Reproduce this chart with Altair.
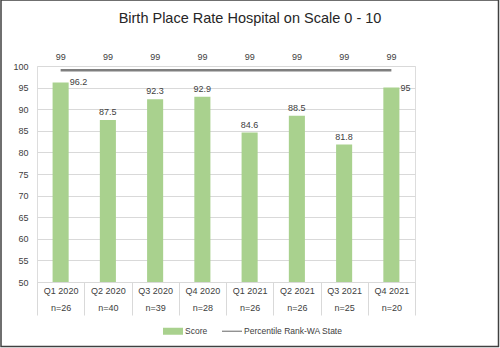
import altair as alt
import pandas as pd

chart_title = "Birth Place Rate Hospital on Scale 0 - 10"
quarters = ["Q1 2020", "Q2 2020", "Q3 2020", "Q4 2020", "Q1 2021", "Q2 2021", "Q3 2021", "Q4 2021"]
n_counts = ["n=26", "n=40", "n=39", "n=28", "n=26", "n=26", "n=25", "n=20"]
scores = [96.2, 87.5, 92.3, 92.9, 84.6, 88.5, 81.8, 95]
percentile = [99, 99, 99, 99, 99, 99, 99, 99]
series_names = ["Score", "Percentile Rank-WA State"]
y_ticks = [50, 55, 60, 65, 70, 75, 80, 85, 90, 95, 100]

labels = [f"{q}|{n}" for q, n in zip(quarters, n_counts)]
df = pd.DataFrame({"label": labels, "score": scores, "pct": percentile})
legend_df = pd.DataFrame({"series": series_names})
frame_df = pd.DataFrame({"title": [chart_title]})

FONT = "Liberation Sans"
W, H = 378, 216

x = alt.X(
    "label:N", sort=labels, title=None,
    scale=alt.Scale(paddingInner=0, paddingOuter=0),
    axis=alt.Axis(
        labelExpr="split(datum.label, '|')", labelAngle=0, tickBand="extent",
        tickSize=33, ticks=True, tickColor="#d9d9d9", domain=True, domainColor="#d9d9d9",
        labelPadding=-29, labelLineHeight=17, labelFontSize=9, labelColor="#404040",
        labelFont=FONT, grid=False, labelBaseline="top",
    ),
)
y_axis = alt.Axis(
    values=y_ticks, grid=True, gridColor="#d9d9d9", domain=False, ticks=False,
    labelPadding=9, labelFontSize=9, labelColor="#404040", labelFont=FONT,
    labelOverlap=False, title=None,
)
y_scale = alt.Scale(domain=[50, 100], nice=False, zero=False)


def yenc(field):
    return alt.Y(f"{field}:Q", scale=y_scale, title=None, axis=y_axis)


bars = alt.Chart(df).mark_bar(
    width=alt.RelativeBandSize(0.34), color="#a9d18e", clip=True
).encode(x=x, y=yenc("score"))

bar_labels_top = alt.Chart(df).transform_filter("datum.score < 95").mark_text(
    baseline="alphabetic", dy=-5, fontSize=9, font=FONT, color="#404040"
).encode(x=x, y=yenc("score"), text=alt.Text("score:Q"))

bar_labels_side = alt.Chart(df).transform_filter("datum.score >= 95").mark_text(
    baseline="middle", align="left", dx=9, fontSize=9, font=FONT, color="#404040"
).encode(x=x, y=yenc("score"), text=alt.Text("score:Q"))

line = alt.Chart(df).mark_line(color="#7f7f7f", strokeWidth=2.5).encode(
    x=x, y=yenc("pct")
)
line_labels = alt.Chart(df).mark_text(
    baseline="alphabetic", dy=-10, fontSize=9, font=FONT, color="#404040"
).encode(x=x, y=yenc("pct"), text=alt.Text("pct:Q"))

legend_layer = alt.Chart(legend_df).transform_filter("datum.series == 'none'").mark_point(
    filled=True, opacity=1
).encode(
    color=alt.Color(
        "series:N",
        scale=alt.Scale(domain=series_names, range=["#a9d18e", "#7f7f7f"]),
        legend=alt.Legend(
            title=None, orient="none", legendX=126, legendY=255, direction="horizontal",
            symbolSize=400, symbolStrokeWidth=0, labelOffset=2, columnPadding=14,
            labelFont=FONT, labelFontSize=8.5, labelColor="#404040", padding=0,
        ),
    ),
    shape=alt.Shape(
        "series:N",
        scale=alt.Scale(
            domain=series_names,
            range=["M-1,-0.35H1V0.35H-1Z", "M-1,-0.06H1V0.06H-1Z"],
        ),
        legend=alt.Legend(title=None, orient="none", legendX=126, legendY=255, direction="horizontal"),
    ),
)

frame = alt.Chart(frame_df).mark_rect(fill=None, stroke="#404040", strokeWidth=1.5).encode(
    x=alt.value(-36), x2=alt.value(461.5), y=alt.value(-66), y2=alt.value(280.5)
)

title_text = alt.Chart(frame_df).mark_text(
    fontSize=14.5, font=FONT, color="#262626", baseline="alphabetic", align="center"
).encode(x=alt.value(213), y=alt.value(-43), text="title:N")

chart = alt.layer(
    bars, line, bar_labels_top, bar_labels_side, line_labels, legend_layer, frame, title_text
).properties(
    width=W, height=H,
    autosize=alt.AutoSizeParams(type="none"),
    padding={"left": 37, "top": 66, "right": 85, "bottom": 66},
).configure_view(stroke=None).configure(background="white")

chart.save("out.html", embed_options={"renderer": "svg", "actions": False})
